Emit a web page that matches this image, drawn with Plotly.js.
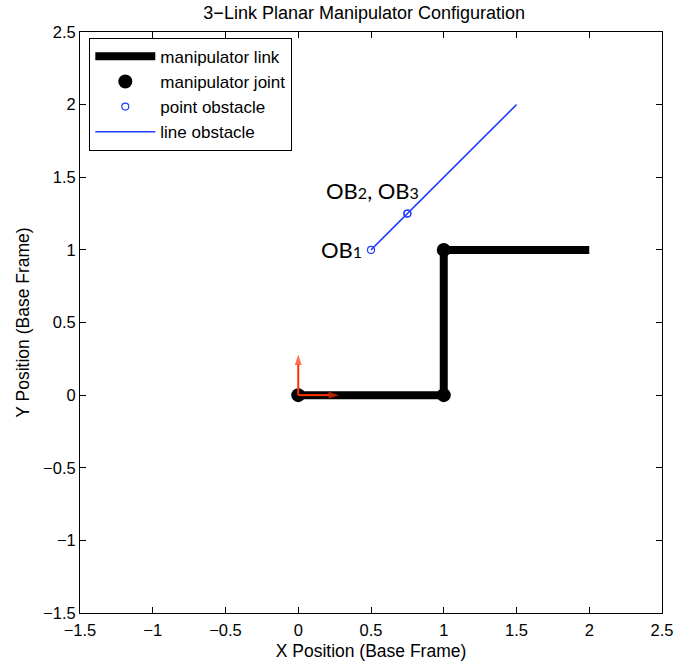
<!DOCTYPE html>
<html>
<head>
<meta charset="utf-8">
<script src="https://cdn.plot.ly/plotly-3.0.1.min.js"></script>
<style>html,body{margin:0;padding:0;background:#fff;}#plot{width:677px;height:662px;}</style>
</head>
<body>
<div id="plot"></div>
<script>
// Manipulator link polyline
const linkX = [0, 1, 1, 2];
const linkY = [0, 0, 1, 1];
// Joints
const jointX = [0, 1, 1];
const jointY = [0, 0, 1];
// Point obstacles
const pointObsX = [0.5, 0.75, 0.75];
const pointObsY = [1, 1.25, 1.25];
// Line obstacle
const lineObsX = [0.5, 1.5];
const lineObsY = [1, 2];
// Base frame axes (quiver): tail and tips
const frameTailX = [0, 0];
const frameTailY = [0, 0];
const frameTipX = [0.28, 0];
const frameTipY = [0, 0.28];
// Obstacle labels
const labelText = ['OB<span style="font-size:16px">2</span>, OB<span style="font-size:16px">3</span>', 'OB<span style="font-size:16px">1</span>'];
const labelX = [0.51, 0.3];
const labelY = [1.41, 1.0];
const xTicks = [-1.5, -1, -0.5, 0, 0.5, 1, 1.5, 2, 2.5];
const yTicks = [-1.5, -1, -0.5, 0, 0.5, 1, 1.5, 2, 2.5];
const fmt = v => String(v).replace('-', '\u2212');

const RED = '#ff3300';
const BLUE = '#1f3cff';
const traces = [
  {x: linkX, y: linkY, mode: 'lines', name: 'manipulator link', line: {color: '#000', width: 8}},
  {x: jointX, y: jointY, mode: 'markers', name: 'manipulator joint', marker: {color: '#000', size: 14}},
  {x: pointObsX, y: pointObsY, mode: 'markers', name: 'point obstacle', marker: {symbol: 'circle-open', color: BLUE, size: 7, line: {width: 1.2}}},
  {x: lineObsX, y: lineObsY, mode: 'lines', name: 'line obstacle', line: {color: BLUE, width: 1.5}}
];
for (let i = 0; i < frameTipX.length; i++) {
  traces.push({x: [frameTailX[i], frameTipX[i]], y: [frameTailY[i], frameTipY[i]], mode: 'lines+markers', showlegend: false,
    line: {color: RED, width: 2},
    marker: {symbol: ['circle', 'arrow'], angleref: 'previous', size: [6, 11], color: RED, line: {width: 0}}});
}

const annotations = [];
for (let i = 0; i < labelText.length; i++) {
  annotations.push({x: labelX[i], y: labelY[i], xref: 'x', yref: 'y', text: labelText[i], showarrow: false,
    font: {family: 'Lato, "Noto Sans", sans-serif', size: 22, color: '#000'}});
}

const FONT = '"Liberation Sans", Arial, sans-serif';
const axisCommon = {
  showgrid: false, zeroline: false, showline: true, linecolor: '#000', linewidth: 1,
  mirror: 'ticks', ticks: 'inside', ticklen: 6, tickcolor: '#000',
  tickfont: {family: FONT, size: 16.5, color: '#000'}
};

const layout = {
  width: 677, height: 662,
  margin: {l: 80, r: 15, t: 32, b: 49},
  paper_bgcolor: '#fff', plot_bgcolor: '#fff',
  title: {text: '3\u2212Link Planar Manipulator Configuration', x: 0.538, xanchor: 'center', y: 0.99, yanchor: 'top',
    font: {family: FONT, size: 18, color: '#000'}},
  xaxis: Object.assign({}, axisCommon, {range: [-1.5, 2.5], tickvals: xTicks, ticktext: xTicks.map(fmt), ticklabelstandoff: 2,
    title: {text: 'X Position (Base Frame)', standoff: 6, font: {family: FONT, size: 17.5, color: '#000'}}}),
  yaxis: Object.assign({}, axisCommon, {range: [-1.5, 2.5], tickvals: yTicks, ticktext: yTicks.map(fmt),
    title: {text: 'Y Position (Base Frame)', standoff: 8, font: {family: FONT, size: 17.5, color: '#000'}}}),
  legend: {x: 0.016, y: 0.99, xanchor: 'left', yanchor: 'top', bordercolor: '#000', borderwidth: 1, bgcolor: '#fff',
    itemwidth: 60, tracegroupgap: 0,
    font: {family: FONT, size: 17, color: '#000'}},
  annotations: annotations,
  showlegend: true
};

Plotly.newPlot('plot', traces, layout, {displayModeBar: false, staticPlot: true});
</script>
</body>
</html>
